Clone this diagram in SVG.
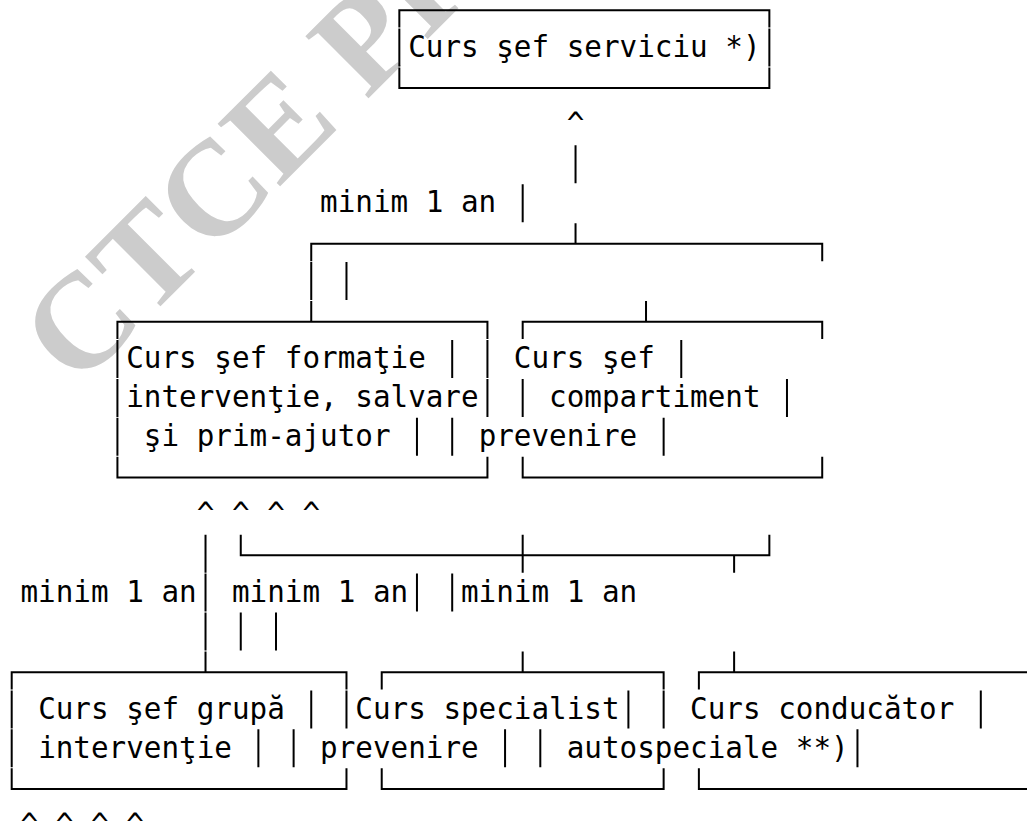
<svg xmlns="http://www.w3.org/2000/svg" width="1027" height="825" viewBox="0 0 1027 825">
<style>
.t{font-family:"DejaVu Sans Mono",monospace;font-size:29.27px;fill:#000}
.ln{fill:none;stroke:#000;stroke-width:2}
.wm{font-family:"Liberation Serif","Times New Roman",serif;font-weight:bold;font-size:135px;fill:#cccccc}
</style>
<rect width="1027" height="825" fill="#fff"/>
<g id="watermark">
<text class="wm" transform="rotate(-45)" x="-221" y="330">CTCE PI</text>
</g>
<g id="connectors">
<path class="ln" d="M575.54 145.26V183.26M575.54 223.14V243.84M522.68 184.2V222.2M311.24 261.14V243.84H822.22V261.14M311.24 262.08V300.08M346.48 262.08V300.08M311.24 301.02V321.72M646.02 301.02V321.72M205.52 534.66V572.66M240.76 534.66V555.36H769.36V534.66M522.68 534.66V572.66M734.12 555.36V572.66M205.52 573.6V611.6M416.96 573.6V611.6M452.2 573.6V611.6M205.52 612.54V650.54M240.76 612.54V650.54M276 612.54V650.54M205.52 651.48V672.18M522.68 651.48V672.18M734.12 651.48V672.18"/>
<text class="t" x="566.73" y="134.4">^</text>
<text class="t" x="320.05" y="212.3">minim 1 an</text>
<text class="t" x="196.71" y="523.8">^ ^ ^ ^</text>
<text class="t" x="20.51" y="601.7">minim 1 an</text>
<text class="t" x="231.95" y="601.7">minim 1 an</text>
<text class="t" x="461.01" y="601.7">minim 1 an</text>
<text class="t" x="20.51" y="835.3">^ ^ ^ ^</text>
</g>
<g id="node-sef-serviciu">
<path class="ln" d="M399.34 27.5V10.2H769.36V27.5M399.34 28.44V66.44M769.36 28.44V66.44M399.34 67.38V88.08H769.36V67.38"/>
<text class="t" x="408.15" y="56.5">Curs şef serviciu *)</text>
</g>
<g id="node-sef-formatie">
<path class="ln" d="M117.42 339.02V321.72H487.44V339.02M117.42 339.96V377.96M117.42 378.9V416.9M117.42 417.84V455.84M487.44 339.96V377.96M487.44 378.9V416.9M117.42 456.78V477.48H487.44V456.78M452.2 339.96V377.96M416.96 417.84V455.84M452.2 417.84V455.84"/>
<text class="t" x="126.23" y="368.1">Curs şef formaţie</text>
<text class="t" x="126.23" y="407">intervenţie, salvare</text>
<text class="t" x="143.85" y="445.9">şi prim-ajutor</text>
</g>
<g id="node-sef-compartiment">
<path class="ln" d="M522.68 339.02V321.72H822.22V339.02M522.68 378.9V416.9M522.68 456.78V477.48H822.22V456.78M681.26 339.96V377.96M786.98 378.9V416.9M663.64 417.84V455.84"/>
<text class="t" x="513.87" y="368.1">Curs şef</text>
<text class="t" x="549.11" y="407">compartiment</text>
<text class="t" x="478.63" y="445.9">prevenire</text>
</g>
<g id="node-sef-grupa">
<path class="ln" d="M11.7 689.48V672.18H346.48V689.48M11.7 690.42V728.42M11.7 729.36V767.36M346.48 690.42V728.42M11.7 768.3V789H346.48V768.3M311.24 690.42V728.42M258.38 729.36V767.36M293.62 729.36V767.36"/>
<text class="t" x="38.13" y="718.5">Curs şef grupă</text>
<text class="t" x="38.13" y="757.5">intervenţie</text>
</g>
<g id="node-specialist">
<path class="ln" d="M381.72 689.48V672.18H663.64V689.48M663.64 690.42V728.42M381.72 768.3V789H663.64V768.3M628.4 690.42V728.42M505.06 729.36V767.36M540.3 729.36V767.36"/>
<text class="t" x="355.29" y="718.5">Curs specialist</text>
<text class="t" x="320.05" y="757.5">prevenire</text>
</g>
<g id="node-conducator">
<path class="ln" d="M698.88 689.48V672.18H1040M698.88 768.3V789H1040M980.8 690.42V728.42M857.46 729.36V767.36"/>
<text class="t" x="690.07" y="718.5">Curs conducător</text>
<text class="t" x="566.73" y="757.5">autospeciale **)</text>
</g>
</svg>
